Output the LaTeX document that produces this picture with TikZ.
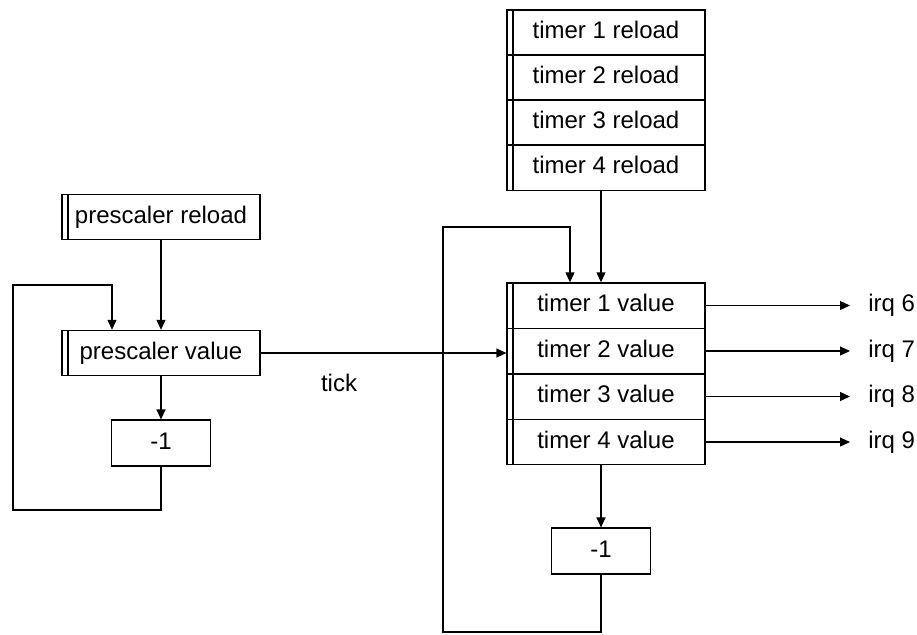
\documentclass[tikz,border=0pt]{standalone}
\usepackage{fontspec}
\setmainfont{Liberation Sans}
\usetikzlibrary{arrows.meta}

\begin{document}
\begin{tikzpicture}[
    x=0.5pt, y=-0.5pt,
    mybox/.style={rectangle, draw, line width=0.6pt, inner sep=0pt, minimum width=49.5pt, minimum height=23pt, text height=8.8pt, text depth=2.6pt, font=\fontsize{12}{14}\selectfont},
    myreg/.style={mybox, minimum width=99pt, minimum height=22.6pt, path picture={\draw[line width=0.6pt] ([xshift=3pt]path picture bounding box.north west) -- ([xshift=3pt]path picture bounding box.south west);}},
    myarrow/.style={-{Triangle[length=5pt,width=4.5pt]}, line width=0.6pt},
    mylabel/.style={font=\fontsize{12}{14}\selectfont},
]
\useasboundingbox (0,0) rectangle (917,634);

% prescaler
\node[myreg] (preload) at (161,217) {prescaler reload};
\node[myreg] (pval) at (161,353) {prescaler value};
\node[mybox] (lm1) at (161,443) {-1};

% timer reload registers
\node[myreg] (tr1) at (606,32.5) {timer 1 reload};
\node[myreg] (tr2) at (606,77.5) {timer 2 reload};
\node[myreg] (tr3) at (606,122.5) {timer 3 reload};
\node[myreg] (tr4) at (606,167.5) {timer 4 reload};

% timer value registers
\node[myreg] (tv1) at (606,305.5) {timer 1 value};
\node[myreg] (tv2) at (606,351) {timer 2 value};
\node[myreg] (tv3) at (606,396.5) {timer 3 value};
\node[myreg] (tv4) at (606,442) {timer 4 value};
\node[mybox] (rm1) at (601,551) {-1};

% interrupt outputs
\node[mylabel, anchor=west, inner xsep=9pt] (irq6) at (850,305.5) {irq 6};
\node[mylabel, anchor=west, inner xsep=9pt] (irq7) at (850,351) {irq 7};
\node[mylabel, anchor=west, inner xsep=9pt] (irq8) at (850,396.5) {irq 8};
\node[mylabel, anchor=west, inner xsep=9pt] (irq9) at (850,442) {irq 9};

\coordinate (ploop) at (13,285);
\coordinate (ploopb) at (13,510);
\coordinate (tloop) at (443,227);
\coordinate (tloopb) at (443,632);

\draw[myarrow] (preload) -- (pval);
\draw[myarrow] (pval) -- (lm1);
\draw[myarrow] (lm1.south) |- (ploopb) -- (ploop) -| ([xshift=-24.5pt]pval.north);

\draw[myarrow] (pval.east) -- (pval.east -| tv2.west);
\node[mylabel] (tick) at (339,383) {tick};

\draw[myarrow] (tr4.south -| rm1) -- (tv1.north -| rm1);
\draw[myarrow] (tv4.south -| rm1) -- (rm1);
\draw[myarrow] (rm1.south) |- (tloopb) -- (tloop) -| ([xshift=-18pt]tv1.north);

\draw[myarrow] (tv1.east) -- (irq6.west);
\draw[myarrow] (tv2.east) -- (irq7.west);
\draw[myarrow] (tv3.east) -- (irq8.west);
\draw[myarrow] (tv4.east) -- (irq9.west);
\end{tikzpicture}
\end{document}
